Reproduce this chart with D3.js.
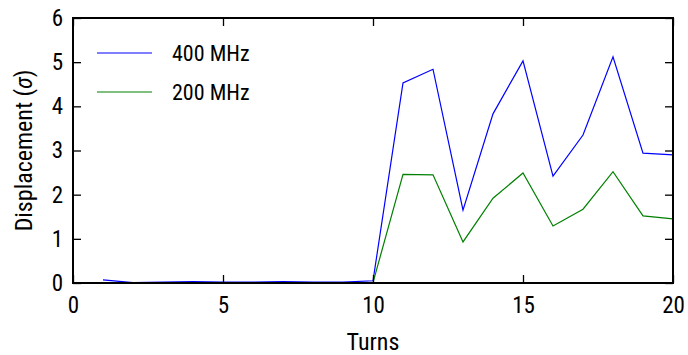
<!DOCTYPE html>
<html>
<head>
<meta charset="utf-8">
<script src="https://cdn.jsdelivr.net/npm/d3@7"></script>
<style>
  body { margin: 0; background: #fff; }
  text { font-family: "Roboto Condensed", Roboto, sans-serif; fill: #000; }
</style>
</head>
<body>
<svg width="688" height="355"></svg>
<script>
// data
var turns = [1, 2, 3, 4, 5, 6, 7, 8, 9, 10, 11, 12, 13, 14, 15, 16, 17, 18, 19, 20];
var mhz400 = [0.07, 0.01, 0.02, 0.03, 0.02, 0.02, 0.03, 0.02, 0.02, 0.05, 4.53, 4.84, 1.65, 3.83, 5.03, 2.42, 3.35, 5.12, 2.94, 2.90];
var mhz200 = [0.01, 0.0, 0.01, 0.01, 0.01, 0.01, 0.01, 0.01, 0.01, 0.01, 2.46, 2.45, 0.93, 1.92, 2.49, 1.29, 1.67, 2.52, 1.52, 1.45];
var xTicks = [0, 5, 10, 15, 20];
var yTicks = [0, 1, 2, 3, 4, 5, 6];
var seriesNames = ["400 MHz", "200 MHz"];
var seriesColors = ["#0000ff", "#008000"];

var svg = d3.select("svg"),
    margin = {top: 18, right: 15, bottom: 72, left: 73},
    width = 688 - margin.left - margin.right,
    height = 355 - margin.top - margin.bottom,
    g = svg.append("g").attr("transform", "translate(" + margin.left + "," + margin.top + ")");

var x = d3.scaleLinear().domain([0, 20]).range([0, width]);
var y = d3.scaleLinear().domain([0, 6]).range([height, 0]);

// lignes
var line = d3.line()
    .x(function(d) { return x(d[0]); })
    .y(function(d) { return y(d[1]); });

[mhz400, mhz200].forEach(function(vals, i) {
  g.append("path")
    .datum(turns.map(function(t, j) { return [t, vals[j]]; }))
    .attr("fill", "none")
    .attr("stroke", seriesColors[i])
    .attr("stroke-width", 1.2)
    .attr("d", line);
});

// axes, ticks inside on all four sides
function styleAxis(sel) {
  sel.select(".domain").remove();
  sel.selectAll(".tick line").attr("stroke", "#000").attr("stroke-width", 1.3);
  sel.selectAll(".tick text").attr("font-size", 23).attr("fill", "#000");
}

g.append("g")
  .attr("transform", "translate(0," + height + ")")
  .call(d3.axisBottom(x).tickValues(xTicks).tickFormat(d3.format("d")).tickSizeInner(-8).tickPadding(14))
  .call(styleAxis);

g.append("g")
  .call(d3.axisTop(x).tickValues(xTicks).tickSizeInner(-8).tickFormat(""))
  .call(styleAxis);

g.append("g")
  .call(d3.axisLeft(y).tickValues(yTicks).tickFormat(d3.format("d")).tickSizeInner(-8).tickPadding(10))
  .call(styleAxis);

g.append("g")
  .attr("transform", "translate(" + width + ",0)")
  .call(d3.axisRight(y).tickValues(yTicks).tickSizeInner(-8).tickFormat(""))
  .call(styleAxis);

// cadre
g.append("rect")
  .attr("width", width)
  .attr("height", height)
  .attr("fill", "none")
  .attr("stroke", "#000")
  .attr("stroke-width", 2);

// labels
svg.append("text")
  .attr("x", margin.left + width / 2)
  .attr("y", 350)
  .attr("text-anchor", "middle")
  .attr("font-size", 24)
  .text("Turns");

svg.append("text")
  .attr("transform", "translate(32," + (margin.top + height / 2) + ") rotate(-90)")
  .attr("text-anchor", "middle")
  .attr("font-size", 24)
  .html("Displacement (<tspan font-style='italic'>σ</tspan>)");

// legende
var legend = g.append("g")
  .selectAll("g")
  .data(seriesNames)
  .enter().append("g")
  .attr("transform", function(d, i) { return "translate(0," + (35 + i * 39) + ")"; });

legend.append("line")
  .attr("x1", 24).attr("x2", 79)
  .attr("stroke", function(d, i) { return seriesColors[i]; })
  .attr("stroke-width", 1.2);

legend.append("text")
  .attr("x", 99)
  .attr("dy", "0.35em")
  .attr("font-size", 22)
  .text(function(d) { return d; });
</script>
</body>
</html>
